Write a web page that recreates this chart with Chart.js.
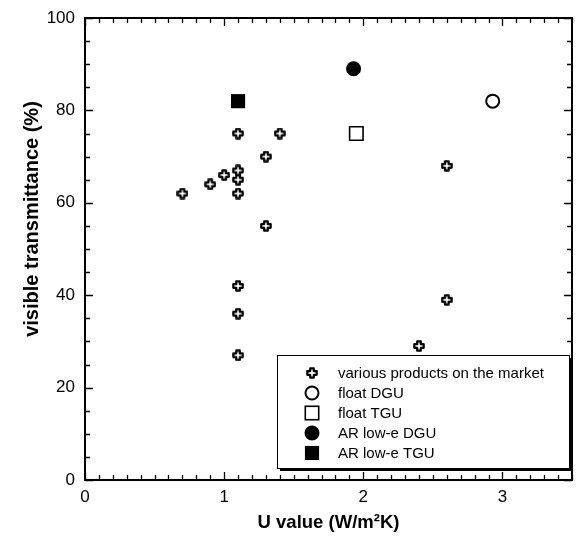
<!DOCTYPE html>
<html>
<head>
<meta charset="utf-8">
<script src="https://cdn.jsdelivr.net/npm/chart.js@4/dist/chart.umd.min.js"></script>
<style>
html,body{margin:0;padding:0;background:#fff;}
#wrap{width:577px;height:547px;}
</style>
</head>
<body>
<div id="wrap"><canvas id="c" width="577" height="547"></canvas></div>
<script>
// ---- data ----
const variousU = [0.7, 0.9, 1.0, 1.1, 1.1, 1.1, 1.1, 1.3, 1.4, 1.3, 1.1, 1.1, 1.1, 2.6, 2.6, 2.4];
const variousT = [62, 64, 66, 62, 65, 67, 75, 70, 75, 55, 42, 36, 27, 68, 39, 29];
const floatDGU = [[2.93, 82]];
const floatTGU = [[1.95, 75]];
const arDGU = [[1.93, 89]];
const arTGU = [[1.1, 82]];
const seriesLabels = ['various products on the market', 'float DGU', 'float TGU', 'AR low-e DGU', 'AR low-e TGU'];
const xTickValues = [0, 1, 2, 3];
const xTickLabels = ['0', '1', '2', '3'];
const yTickValues = [0, 20, 40, 60, 80, 100];
const yTickLabels = ['0', '20', '40', '60', '80', '100'];
const xTitle = 'U value (W/m\u00B2K)';
const yTitle = 'visible transmittance (%)';

// ---- marker for "various" ----
function makePlus() {
  const c = document.createElement('canvas');
  c.width = 12; c.height = 12;
  const g = c.getContext('2d');
  const cx = 6, cy = 6, a = 1.8, l = 4.7;
  g.beginPath();
  g.moveTo(cx - a, cy - l); g.lineTo(cx + a, cy - l); g.lineTo(cx + a, cy - a);
  g.lineTo(cx + l, cy - a); g.lineTo(cx + l, cy + a); g.lineTo(cx + a, cy + a);
  g.lineTo(cx + a, cy + l); g.lineTo(cx - a, cy + l); g.lineTo(cx - a, cy + a);
  g.lineTo(cx - l, cy + a); g.lineTo(cx - l, cy - a); g.lineTo(cx - a, cy - a);
  g.closePath();
  g.fillStyle = '#fff'; g.fill();
  g.lineWidth = 2.2; g.lineJoin = 'round'; g.strokeStyle = '#000'; g.stroke();
  return c;
}
const plusImg = makePlus();

const toPts = arr => arr.map(p => ({x: p[0], y: p[1]}));

const datasets = [
  {label: seriesLabels[0], data: variousU.map((u, i) => ({x: u, y: variousT[i]})), pointStyle: plusImg, pointRadius: 6},
  {label: seriesLabels[1], data: toPts(floatDGU), pointStyle: 'circle', pointRadius: 6.5, borderColor: '#000', backgroundColor: '#fff', borderWidth: 2},
  {label: seriesLabels[2], data: toPts(floatTGU), pointStyle: 'rect', pointRadius: 9.5, borderColor: '#000', backgroundColor: '#fff', borderWidth: 1.6},
  {label: seriesLabels[3], data: toPts(arDGU), pointStyle: 'circle', pointRadius: 7.5, borderColor: '#000', backgroundColor: '#000', borderWidth: 0},
  {label: seriesLabels[4], data: toPts(arTGU), pointStyle: 'rect', pointRadius: 10, borderColor: '#000', backgroundColor: '#000', borderWidth: 0}
];

const FONT = '"Liberation Sans", Arial, Helvetica, sans-serif';

const framePlugin = {
  id: 'frame',
  afterDatasetsDraw(chart) {
    const {ctx, chartArea: a, scales: {x, y}} = chart;
    ctx.save();
    ctx.strokeStyle = '#000';
    // ticks
    ctx.lineWidth = 1.3;
    ctx.beginPath();
    for (let i = 0; i <= 35; i++) {
      const v = i / 10;
      const px = Math.round(x.getPixelForValue(v)) + 0.5;
      const len = (i % 10 === 0) ? 8 : 5;
      ctx.moveTo(px, a.bottom); ctx.lineTo(px, a.bottom - len);
      ctx.moveTo(px, a.top); ctx.lineTo(px, a.top + len);
    }
    for (let v = 0; v <= 100; v += 5) {
      const py = Math.round(y.getPixelForValue(v)) + 0.5;
      const len = (v % 20 === 0) ? 8 : 5;
      ctx.moveTo(a.left, py); ctx.lineTo(a.left + len, py);
      ctx.moveTo(a.right, py); ctx.lineTo(a.right - len, py);
    }
    ctx.stroke();
    // frame
    ctx.lineWidth = 2;
    ctx.strokeRect(a.left, a.top, a.right - a.left, a.bottom - a.top);

    // legend
    const lx = 277, ly = 355, lw = 292, lh = 113;
    ctx.fillStyle = '#000';
    ctx.fillRect(lx + 3, ly + 3, lw, lh);
    ctx.fillStyle = '#fff';
    ctx.fillRect(lx, ly, lw, lh);
    ctx.lineWidth = 1;
    ctx.strokeRect(lx + 0.5, ly + 0.5, lw, lh);
    const mx = 312, tx = 338;
    ctx.font = '15px ' + FONT;
    ctx.textBaseline = 'middle';
    ctx.textAlign = 'left';
    chart.data.datasets.forEach((ds, i) => {
      const ry = 373 + i * 20;
      ctx.fillStyle = '#000';
      ctx.strokeStyle = '#000';
      if (i === 0) {
        ctx.drawImage(plusImg, mx - 6, ry - 6);
      } else if (ds.pointStyle === 'circle') {
        ctx.beginPath();
        ctx.arc(mx, ry, ds.pointRadius, 0, Math.PI * 2);
        if (ds.backgroundColor === '#000') { ctx.fill(); }
        else { ctx.fillStyle = '#fff'; ctx.fill(); ctx.lineWidth = 2; ctx.stroke(); }
      } else {
        const s = ds.pointRadius * Math.SQRT1_2;
        if (ds.backgroundColor === '#000') { ctx.fillRect(mx - s, ry - s, 2 * s, 2 * s); }
        else { ctx.fillStyle = '#fff'; ctx.fillRect(mx - s, ry - s, 2 * s, 2 * s); ctx.lineWidth = 1.6; ctx.strokeRect(mx - s, ry - s, 2 * s, 2 * s); }
      }
      ctx.fillStyle = '#000';
      ctx.fillText(ds.label, tx, ry + 1);
    });

    // axis titles
    ctx.textAlign = 'center';
    ctx.textBaseline = 'middle';
    ctx.font = 'bold 18.5px ' + FONT;
    ctx.fillText(xTitle, (a.left + a.right) / 2, 523);
    ctx.font = 'bold 20px ' + FONT;
    ctx.save();
    ctx.translate(32, 219);
    ctx.rotate(-Math.PI / 2);
    ctx.fillText(yTitle, 0, 0);
    ctx.restore();
    ctx.restore();
  }
};

const noPad = s => { s.paddingLeft = 0; s.paddingRight = 0; s.paddingTop = 0; s.paddingBottom = 0; };

new Chart(document.getElementById('c'), {
  type: 'scatter',
  data: {datasets},
  options: {
    responsive: false,
    animation: false,
    events: [],
    layout: {autoPadding: false, padding: {top: 18, right: 5, left: 0, bottom: 0}},
    plugins: {legend: {display: false}, tooltip: {enabled: false}},
    elements: {point: {borderColor: '#000', backgroundColor: '#fff'}},
    scales: {
      x: {
        type: 'linear', min: 0, max: 3.5,
        grid: {display: false, drawTicks: false},
        border: {display: false},
        afterBuildTicks: s => { s.ticks = xTickValues.map(v => ({value: v})); },
        afterFit: s => { s.height = 67; noPad(s); },
        ticks: {
          padding: 7, maxRotation: 0, autoSkip: false,
          color: '#000', font: {family: FONT, size: 17},
          callback: (v) => xTickLabels[xTickValues.indexOf(v)]
        }
      },
      y: {
        type: 'linear', min: 0, max: 100,
        grid: {display: false, drawTicks: false},
        border: {display: false},
        afterBuildTicks: s => { s.ticks = yTickValues.map(v => ({value: v})); },
        afterFit: s => { s.width = 85; noPad(s); },
        ticks: {
          padding: 10, autoSkip: false,
          color: '#000', font: {family: FONT, size: 17},
          callback: (v) => yTickLabels[yTickValues.indexOf(v)]
        }
      }
    }
  },
  plugins: [framePlugin]
});
</script>
</body>
</html>
